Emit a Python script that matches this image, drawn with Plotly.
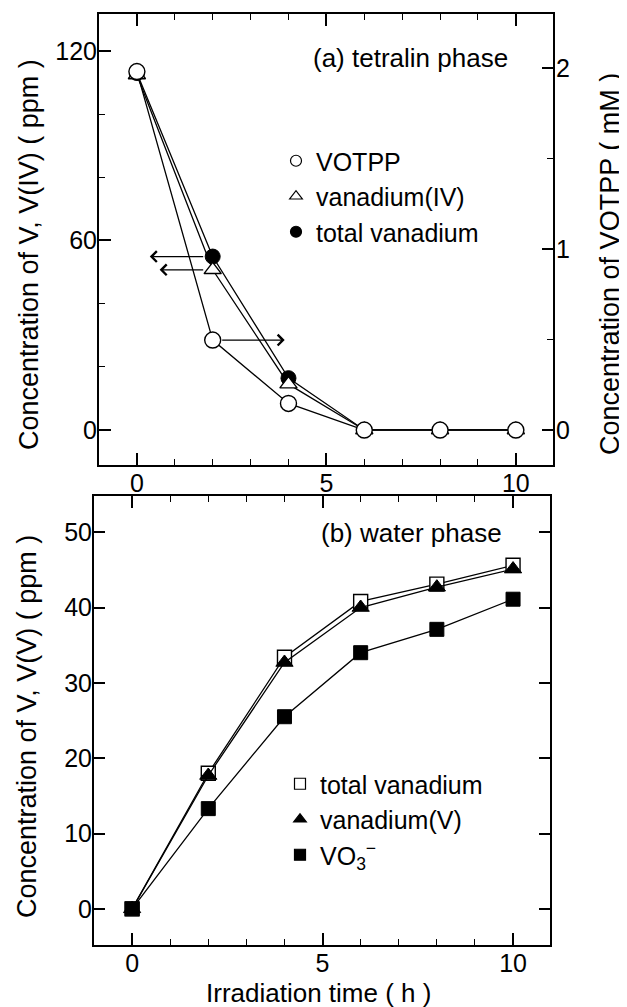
import plotly.graph_objects as go

# ---------------- data ----------------
hours = [0, 2, 4, 6, 8, 10]

# (a) tetralin phase
tetralin_total_v_ppm = [113.0, 54.9, 16.4, 0, 0, 0]
tetralin_v4_ppm = [112.4, 50.7, 14.5, 0, 0, 0]
tetralin_votpp_mM = [1.98, 0.497, 0.147, 0, 0, 0]

# (b) water phase
water_total_v_ppm = [0, 18.0, 33.4, 40.8, 43.1, 45.6]
water_v5_ppm = [0, 17.7, 32.7, 40.0, 42.7, 45.1]
water_vo3_ppm = [0, 13.3, 25.5, 34.0, 37.1, 41.1]

legend_a = ["VOTPP", "vanadium(IV)", "total vanadium"]
legend_b = ["total vanadium", "vanadium(V)", "VO<sub>3</sub><sup>\u2212</sup>"]

# arrows (axis indicators): tip hour for total V, V(IV) (left axis) and VOTPP (right axis)
arrow_tip_hours = [0.34, 0.6, 3.9]

FONT = "Liberation Sans, Arial, sans-serif"
BLACK = "black"
LW = 1.3

# page has an 8px body margin -> figure is 619x999 placed at (8, 8)
OFF = 8
W, H = 627 - OFF, 1007 - OFF


def fx(p):
    return (p - OFF) / W


def fy(p):
    return 1 - (p - OFF) / H


fig = go.Figure()

# ---- panel (a) ----
fig.add_trace(go.Scatter(x=hours, y=tetralin_total_v_ppm, mode="lines+markers",
                         line=dict(color=BLACK, width=LW),
                         marker=dict(symbol="circle", size=15, color=BLACK,
                                     line=dict(color=BLACK, width=1)),
                         xaxis="x", yaxis="y", showlegend=False))
fig.add_trace(go.Scatter(x=hours, y=tetralin_votpp_mM, mode="lines+markers",
                         line=dict(color=BLACK, width=LW),
                         marker=dict(symbol="circle", size=16, color="white",
                                     line=dict(color=BLACK, width=1.4)),
                         xaxis="x", yaxis="y2", showlegend=False))
fig.add_trace(go.Scatter(x=hours, y=tetralin_v4_ppm, mode="lines+markers",
                         line=dict(color=BLACK, width=LW),
                         marker=dict(symbol="triangle-up", size=15, color="white",
                                     line=dict(color=BLACK, width=1.4)),
                         xaxis="x", yaxis="y", showlegend=False))

leg_a_symbols = [("circle", "white"), ("triangle-up", "white"), ("circle", BLACK)]
for name, (sym, col) in zip(legend_a, leg_a_symbols):
    fig.add_trace(go.Scatter(x=[None], y=[None], mode="markers", name=name,
                             marker=dict(symbol=sym, size=11, color=col,
                                         line=dict(color=BLACK, width=1.2)),
                             xaxis="x", yaxis="y", legend="legend", showlegend=True))

# ---- panel (b) ----
fig.add_trace(go.Scatter(x=hours, y=water_total_v_ppm, mode="lines+markers",
                         line=dict(color=BLACK, width=LW),
                         marker=dict(symbol="square", size=14, color="white",
                                     line=dict(color=BLACK, width=1.4)),
                         xaxis="x2", yaxis="y3", showlegend=False))
fig.add_trace(go.Scatter(x=hours, y=water_v5_ppm, mode="lines+markers",
                         line=dict(color=BLACK, width=LW),
                         marker=dict(symbol="triangle-up", size=15, color=BLACK,
                                     line=dict(color=BLACK, width=1)),
                         xaxis="x2", yaxis="y3", showlegend=False))
fig.add_trace(go.Scatter(x=hours, y=water_vo3_ppm, mode="lines+markers",
                         line=dict(color=BLACK, width=LW),
                         marker=dict(symbol="square", size=14, color=BLACK,
                                     line=dict(color=BLACK, width=1)),
                         xaxis="x2", yaxis="y3", showlegend=False))

leg_b_symbols = [("square", "white"), ("triangle-up", BLACK), ("square", BLACK)]
for name, (sym, col) in zip(legend_b, leg_b_symbols):
    fig.add_trace(go.Scatter(x=[None], y=[None], mode="markers", name=name,
                             marker=dict(symbol=sym, size=11, color=col,
                                         line=dict(color=BLACK, width=1.2)),
                             xaxis="x2", yaxis="y3", legend="legend2", showlegend=True))

TICKFONT = dict(family=FONT, size=25, color=BLACK)


def xaxis_common(domain, anchor, rng):
    return dict(domain=domain, anchor=anchor, range=rng, tick0=0, dtick=5,
                ticks="inside", ticklen=12, tickwidth=1.5, tickcolor=BLACK,
                minor=dict(dtick=1, tick0=0, ticks="inside", ticklen=6, tickwidth=1.2,
                           tickcolor=BLACK, showgrid=False),
                showline=True, linewidth=2, linecolor=BLACK, mirror="ticks",
                showgrid=False, zeroline=False, ticklabelstandoff=-5,
                tickfont=TICKFONT)


layout = dict(
    width=W, height=H,
    margin=dict(l=0, r=0, t=0, b=0),
    paper_bgcolor="white", plot_bgcolor="white",
    font=dict(family=FONT, size=25, color=BLACK),
    xaxis=xaxis_common([fx(99), fx(553)], "y", [-1.0, 10.98]),
    yaxis=dict(domain=[fy(465), fy(14)], anchor="x", range=[-11.1, 131.7],
               tick0=0, dtick=60, ticks="inside", ticklen=12, tickwidth=1.5, tickcolor=BLACK,
               minor=dict(dtick=20, tick0=0, ticks="inside", ticklen=6, tickwidth=1.2,
                          tickcolor=BLACK, showgrid=False),
               showline=True, linewidth=2, linecolor=BLACK, mirror=True,
               showgrid=False, zeroline=False, ticklabelstandoff=-5,
               tickfont=TICKFONT),
    yaxis2=dict(overlaying="y", side="right", anchor="x", range=[-0.193, 2.298],
                tick0=0, dtick=1, ticks="inside", ticklen=11, tickwidth=1.5, tickcolor=BLACK,
                minor=dict(dtick=0.5, tick0=0, ticks="inside", ticklen=6, tickwidth=1.2,
                           tickcolor=BLACK, showgrid=False),
                showline=True, linewidth=2, linecolor=BLACK,
                showgrid=False, zeroline=False, ticklabelstandoff=-4,
                tickfont=TICKFONT),
    xaxis2=xaxis_common([fx(94), fx(550)], "y3", [-1.0, 10.97]),
    yaxis3=dict(domain=[fy(945), fy(496)], anchor="x2", range=[-4.8, 54.8],
                tick0=0, dtick=10, ticks="inside", ticklen=11, tickwidth=1.5, tickcolor=BLACK,
                showline=True, linewidth=2, linecolor=BLACK, mirror="ticks",
                showgrid=False, zeroline=False, ticklabelstandoff=-5,
                tickfont=TICKFONT),
    legend=dict(x=fx(276), y=fy(138), xanchor="left", yanchor="top",
                bgcolor="rgba(0,0,0,0)", borderwidth=0,
                font=dict(family=FONT, size=25, color=BLACK)),
    legend2=dict(x=fx(280), y=fy(761), xanchor="left", yanchor="top",
                 bgcolor="rgba(0,0,0,0)", borderwidth=0,
                 font=dict(family=FONT, size=25, color=BLACK)),
)
fig.update_layout(**layout)

annotations = [
    dict(text="(a) tetralin phase", x=fx(410), y=fy(58), xref="paper", yref="paper",
         showarrow=False, xanchor="center", yanchor="middle", font=dict(size=26)),
    dict(text="(b) water phase", x=fx(411), y=fy(533), xref="paper", yref="paper",
         showarrow=False, xanchor="center", yanchor="middle", font=dict(size=26)),
    dict(text="Concentration of V, V(IV) ( ppm )", x=fx(29), y=fy(255),
         xref="paper", yref="paper", showarrow=False, textangle=-90,
         xanchor="center", yanchor="middle", font=dict(size=27)),
    dict(text="Concentration of VOTPP ( mM )", x=fx(610), y=fy(264),
         xref="paper", yref="paper", showarrow=False, textangle=-90,
         xanchor="center", yanchor="middle", font=dict(size=27)),
    dict(text="Concentration of V, V(V) ( ppm )", x=fx(27), y=fy(727),
         xref="paper", yref="paper", showarrow=False, textangle=-90,
         xanchor="center", yanchor="middle", font=dict(size=27)),
    dict(text="Irradiation time ( h )", x=fx(318), y=fy(993),
         xref="paper", yref="paper", showarrow=False,
         xanchor="center", yanchor="middle", font=dict(size=26)),
]

arrow_specs = [
    (arrow_tip_hours[0], tetralin_total_v_ppm[1], "y"),
    (arrow_tip_hours[1], tetralin_v4_ppm[1], "y"),
    (arrow_tip_hours[2], tetralin_votpp_mM[1], "y2"),
]
for tip_x, yval, yref in arrow_specs:
    annotations.append(dict(
        text="", x=tip_x, y=yval, xref="x", yref=yref,
        ax=hours[1], ay=yval, axref="x", ayref=yref,
        showarrow=True, arrowhead=4, arrowsize=1.6, arrowwidth=1.3,
        arrowcolor=BLACK, startstandoff=8))

fig.update_layout(annotations=annotations)

fig.write_html("out.html")
